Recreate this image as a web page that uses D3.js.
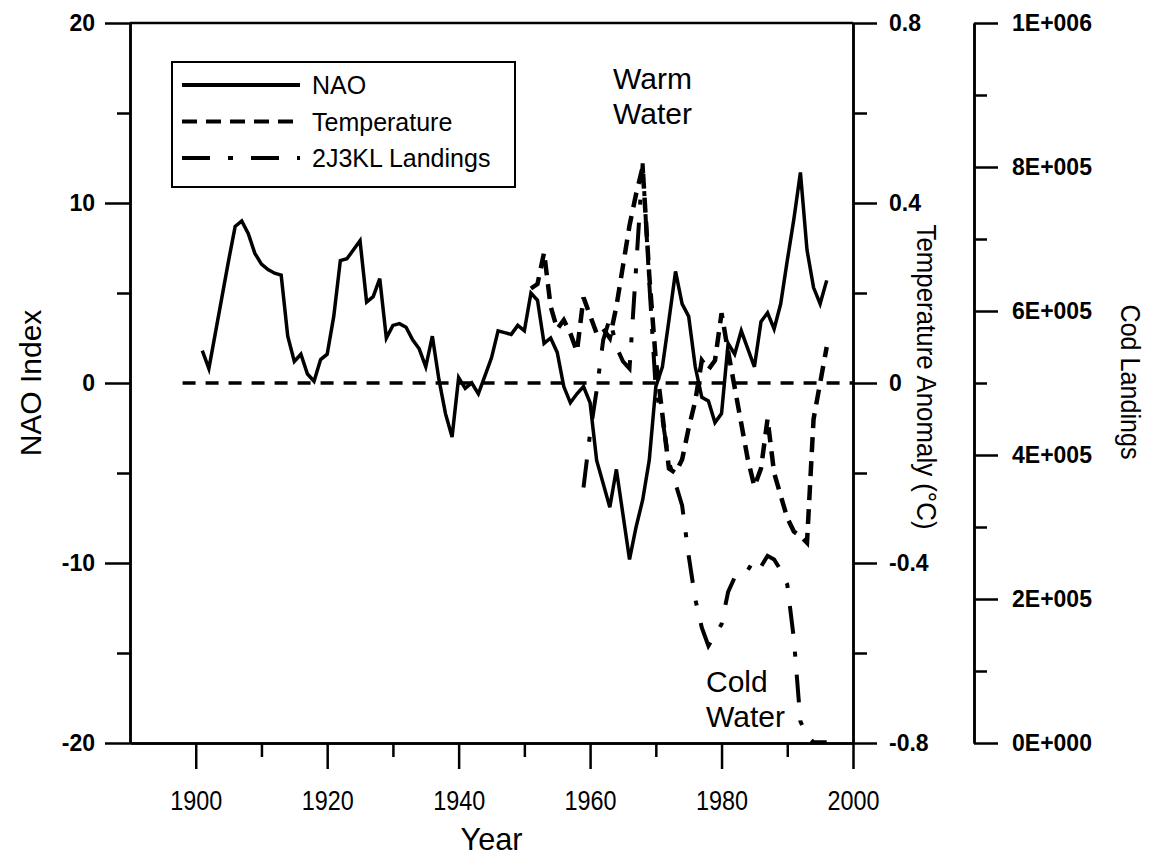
<!DOCTYPE html>
<html lang="en">
<head>
<meta charset="UTF-8">
<title>NAO, Temperature and 2J3KL Cod Landings</title>
<script src="https://d3js.org/d3.v7.min.js"></script>
<style>
  body { margin: 0; background: #fff; }
  svg { font-family: "Liberation Sans", Arial, sans-serif; }
  .axis path, .axis line { stroke: #000; stroke-width: 2.5; }
  .axis text { fill: #000; }
  .ylab text { font-size: 23px; font-weight: bold; }
  .xlab text { font-size: 28px; }
  .series { fill: none; stroke: #000; }
</style>
</head>
<body>
<div id="chart"></div>
<script>
// NAO index, one value per year from 1901
const naoStart = 1901;
const naoValues = [
  1.8, 0.8, 2.8, 4.8, 6.8, 8.7, 9.0, 8.3, 7.2, 6.6,
  6.3, 6.1, 6.0, 2.6, 1.2, 1.6, 0.5, 0.1, 1.3, 1.6,
  3.7, 6.8, 6.9, 7.4, 7.9, 4.5, 4.8, 5.8, 2.5, 3.2,
  3.3, 3.1, 2.4, 1.9, 0.9, 2.6, 0.2, -1.7, -3.0, 0.3,
  -0.3, 0.0, -0.6, 0.4, 1.4, 2.9, 2.8, 2.7, 3.2, 2.9,
  5.0, 4.6, 2.2, 2.5, 1.7, -0.2, -1.1, -0.6, -0.2, -1.1,
  -4.3, -5.6, -6.9, -4.8, -7.3, -9.8, -8.0, -6.5, -4.3, -0.2,
  0.9, 3.5, 6.2, 4.4, 3.7, 0.9, -0.8, -1.0, -2.2, -1.7,
  2.2, 1.6, 2.9, 1.9, 0.9, 3.4, 3.9, 3.0, 4.4, 6.8,
  9.1, 11.7, 7.4, 5.3, 4.4, 5.7
];

// temperature anomaly (deg C), one value per year from 1951
const tempStart = 1951;
const tempValues = [
  0.21, 0.22, 0.29, 0.17, 0.12, 0.14, 0.11, 0.07, 0.19, 0.15,
  0.11, 0.12, 0.10, 0.17, 0.26, 0.35, 0.42, 0.48, 0.24, 0.05,
  -0.07, -0.19, -0.20, -0.17, -0.10, -0.04, 0.05, 0.03, 0.05, 0.155,
  0.07, -0.01, -0.09, -0.17, -0.23, -0.19, -0.08, -0.20, -0.25, -0.30,
  -0.33, -0.34, -0.355, -0.08, 0.0, 0.08
];

// 2J3KL cod landings (t), one value per year from 1959
const codStart = 1959;
const codValues = [
  355000, 430000, 490000, 560000, 590000, 550000, 530000, 520000, 660000, 805000,
  640000, 490000, 450000, 390000, 360000, 330000, 260000, 200000, 160000, 135000,
  150000, 165000, 210000, 230000, 230000, 240000, 255000, 245000, 260000, 255000,
  240000, 220000, 145000, 30000, 10000, 1000, 1000, 1000
];

// reference line at NAO = 0
const zeroYears = [1898, 2000];

const naoTicks = [-20, -10, 0, 10, 20];
const naoTickLabels = ["-20", "-10", "0", "10", "20"];
const naoMinor = [-15, -5, 5, 15];
const yearTicks = [1900, 1920, 1940, 1960, 1980, 2000];
const yearMinor = [1910, 1930, 1950, 1970, 1990];
const tempTicks = [-0.8, -0.4, 0, 0.4, 0.8];
const tempTickLabels = ["-0.8", "-0.4", "0", "0.4", "0.8"];
const tempMinor = [-0.6, -0.2, 0.2, 0.6];
const codTicks = [0, 200000, 400000, 600000, 800000, 1000000];
const codTickLabels = ["0E+000", "2E+005", "4E+005", "6E+005", "8E+005", "1E+006"];
const codMinor = [100000, 300000, 500000, 700000, 900000];

const legendItems = ["NAO", "Temperature", "2J3KL Landings"];

const width = 1159, height = 867;
const plotL = 130, plotR = 853, plotT = 23, plotB = 743;

const x = d3.scaleLinear().domain([1890, 2000]).range([plotL, plotR]);
const yNao = d3.scaleLinear().domain([-20, 20]).range([plotB, plotT]);
const yTemp = d3.scaleLinear().domain([-0.8, 0.8]).range([plotB, plotT]);
const yCod = d3.scaleLinear().domain([0, 1000000]).range([plotB, plotT]);

const svg = d3.select("#chart").append("svg")
  .attr("width", width)
  .attr("height", height);

// axes
svg.append("g").attr("class", "axis ylab")
  .attr("transform", `translate(${plotL},0)`)
  .call(d3.axisLeft(yNao).tickValues(naoTicks).tickSize(25).tickSizeOuter(0)
    .tickPadding(10).tickFormat((d, i) => naoTickLabels[i]));
svg.append("g").attr("class", "axis")
  .attr("transform", `translate(${plotL},0)`)
  .call(d3.axisLeft(yNao).tickValues(naoMinor).tickSize(13).tickSizeOuter(0).tickFormat(""));

// year labels are set in a condensed face in the original, squeeze them
svg.append("g").attr("class", "axis xlab")
  .attr("transform", `translate(0,${plotB})`)
  .call(d3.axisBottom(x).tickValues(yearTicks).tickSize(26).tickSizeOuter(0)
    .tickPadding(21).tickFormat(d3.format("d")))
  .selectAll("text")
  .attr("textLength", 52)
  .attr("lengthAdjust", "spacingAndGlyphs");
svg.append("g").attr("class", "axis")
  .attr("transform", `translate(0,${plotB})`)
  .call(d3.axisBottom(x).tickValues(yearMinor).tickSize(14).tickSizeOuter(0).tickFormat(""));

svg.append("g").attr("class", "axis ylab")
  .attr("transform", `translate(${plotR},0)`)
  .call(d3.axisRight(yTemp).tickValues(tempTicks).tickSize(24).tickSizeOuter(0)
    .tickPadding(12).tickFormat((d, i) => tempTickLabels[i]));
svg.append("g").attr("class", "axis")
  .attr("transform", `translate(${plotR},0)`)
  .call(d3.axisRight(yTemp).tickValues(tempMinor).tickSize(14).tickSizeOuter(0).tickFormat(""));

const codX = 974;
svg.append("g").attr("class", "axis ylab")
  .attr("transform", `translate(${codX},0)`)
  .call(d3.axisRight(yCod).tickValues(codTicks).tickSize(24).tickSizeOuter(0)
    .tickPadding(14).tickFormat((d, i) => codTickLabels[i]));
svg.append("g").attr("class", "axis")
  .attr("transform", `translate(${codX},0)`)
  .call(d3.axisRight(yCod).tickValues(codMinor).tickSize(13).tickSizeOuter(0).tickFormat(""));

// top frame line
svg.append("line")
  .attr("x1", x(1890)).attr("x2", x(2000))
  .attr("y1", yNao(20)).attr("y2", yNao(20))
  .attr("stroke", "#000").attr("stroke-width", 2.5);

// zero line
svg.append("line")
  .attr("x1", x(zeroYears[0])).attr("x2", x(zeroYears[1]))
  .attr("y1", yNao(0)).attr("y2", yNao(0))
  .attr("stroke", "#000").attr("stroke-width", 3.5)
  .attr("stroke-dasharray", "13,10");

// series
const naoLine = d3.line().x((d, i) => x(naoStart + i)).y(d => yNao(d));
const tempLine = d3.line().x((d, i) => x(tempStart + i)).y(d => yTemp(d));
const codLine = d3.line().x((d, i) => x(codStart + i)).y(d => yCod(d));

svg.append("path").attr("class", "series")
  .attr("d", codLine(codValues))
  .attr("stroke-width", 4)
  .attr("stroke-dasharray", "28,18,5,18");

svg.append("path").attr("class", "series")
  .attr("d", tempLine(tempValues))
  .attr("stroke-width", 4.5)
  .attr("stroke-dasharray", "15,9");

svg.append("path").attr("class", "series")
  .attr("d", naoLine(naoValues))
  .attr("stroke-width", 3.5)
  .attr("stroke-linejoin", "miter");

// legend
const legend = svg.append("g");
legend.append("rect")
  .attr("x", 172).attr("y", 62).attr("width", 343).attr("height", 125)
  .attr("fill", "#fff").attr("stroke", "#000").attr("stroke-width", 2);
const dashes = [null, "15,9", "28,18,5,18"];
legendItems.forEach((name, i) => {
  const yy = 85 + i * 36.5;
  legend.append("line")
    .attr("x1", 182).attr("x2", 300).attr("y1", yy).attr("y2", yy)
    .attr("stroke", "#000").attr("stroke-width", 4)
    .attr("stroke-dasharray", dashes[i]);
  legend.append("text")
    .attr("x", 312).attr("y", yy + 9)
    .attr("font-size", 25)
    .text(name);
});

// annotations
const notes = [
  { t: "Warm", x: 613, y: 89 },
  { t: "Water", x: 613, y: 124 },
  { t: "Cold", x: 706, y: 692 },
  { t: "Water", x: 706, y: 727 }
];
svg.selectAll(".note").data(notes).enter().append("text")
  .attr("class", "note")
  .attr("x", d => d.x).attr("y", d => d.y)
  .attr("font-size", 30)
  .text(d => d.t);

// axis titles
svg.append("text")
  .attr("transform", `translate(30,${yNao(0)}) rotate(-90)`)
  .attr("text-anchor", "middle").attr("dy", "0.35em")
  .attr("font-size", 30)
  .text("NAO Index");

svg.append("text")
  .attr("x", (plotL + plotR) / 2).attr("y", 850)
  .attr("text-anchor", "middle")
  .attr("font-size", 32)
  .attr("textLength", 62).attr("lengthAdjust", "spacingAndGlyphs")
  .text("Year");

svg.append("text")
  .attr("transform", `translate(926,377) rotate(90)`)
  .attr("text-anchor", "middle").attr("dy", "0.35em")
  .attr("font-size", 27)
  .attr("textLength", 305).attr("lengthAdjust", "spacingAndGlyphs")
  .text("Temperature Anomaly (\u00B0C)");

svg.append("text")
  .attr("transform", `translate(1130,382) rotate(90)`)
  .attr("text-anchor", "middle").attr("dy", "0.35em")
  .attr("font-size", 27)
  .attr("textLength", 155).attr("lengthAdjust", "spacingAndGlyphs")
  .text("Cod Landings");
</script>
</body>
</html>
